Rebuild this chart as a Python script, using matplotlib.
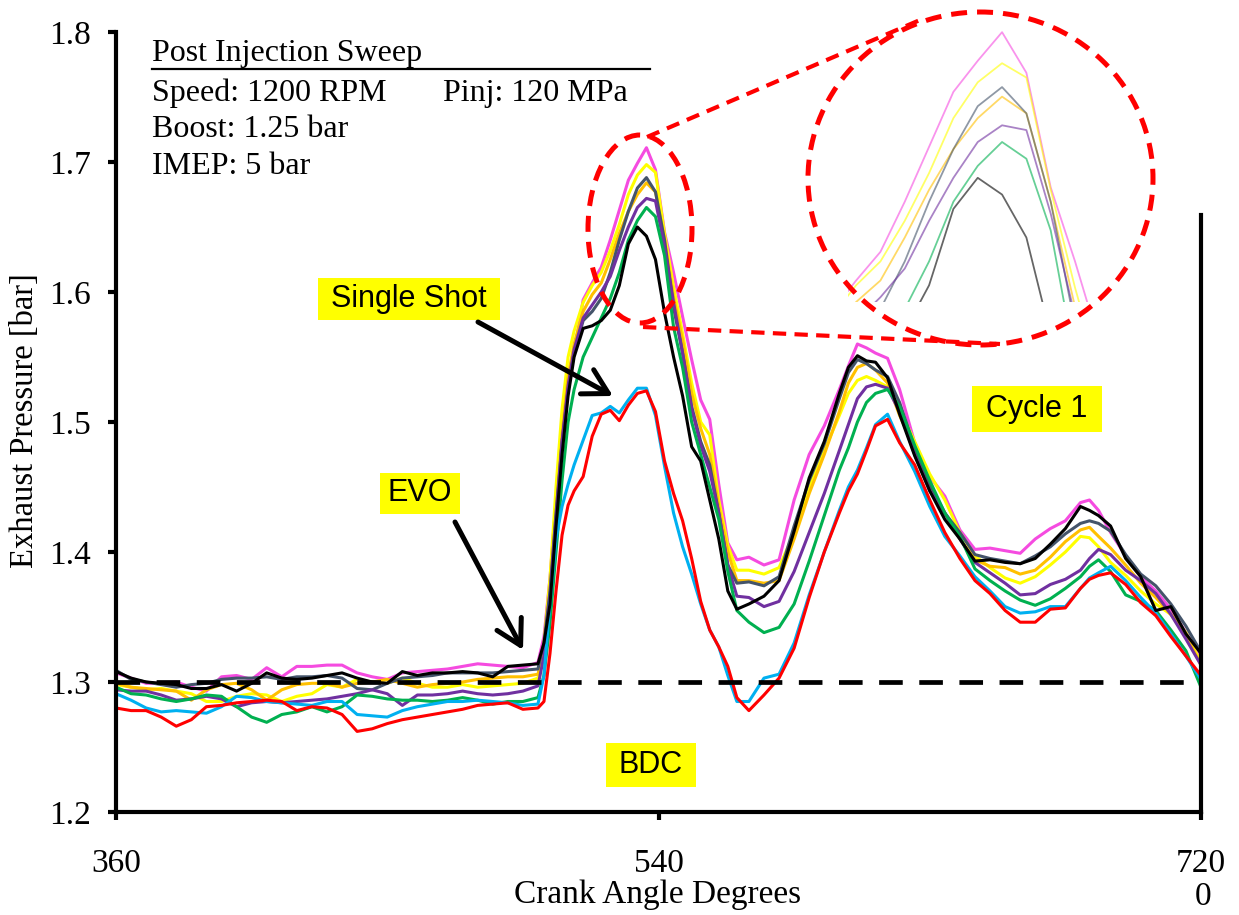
import matplotlib
matplotlib.use("Agg")
import matplotlib.pyplot as plt
from matplotlib.patches import Ellipse, Rectangle, FancyArrowPatch
from matplotlib.lines import Line2D

# ---------------- data ----------------
crank_angle = (list(range(360, 501, 5)) + [502, 504, 506, 508, 510, 512]
               + list(range(515, 567, 3)) + [570, 575, 580, 585, 590, 595, 600]
               + [603, 606, 609, 612, 616, 620] + list(range(625, 681, 5))
               + [683, 686] + list(range(690, 721, 5)))

magenta = [1.307, 1.303, 1.299, 1.299, 1.300, 1.296, 1.293, 1.304, 1.305, 1.302, 1.311, 1.304, 1.312, 1.312, 1.313,
           1.313, 1.307, 1.304, 1.302, 1.307, 1.308, 1.309, 1.310, 1.312, 1.314, 1.313, 1.312, 1.311, 1.315,
           1.335, 1.380, 1.440, 1.500, 1.532, 1.553,
           1.594, 1.607, 1.619, 1.640, 1.663, 1.686, 1.699, 1.711, 1.694, 1.646, 1.615, 1.581, 1.548, 1.517, 1.502,
           1.452, 1.407, 1.394,
           1.396, 1.390, 1.394, 1.440, 1.475, 1.497, 1.525,
           1.543, 1.560, 1.557, 1.553, 1.549, 1.525,
           1.484, 1.458, 1.443, 1.417, 1.402, 1.403, 1.401, 1.399, 1.410, 1.418, 1.424, 1.438,
           1.440, 1.432,
           1.415, 1.397, 1.381, 1.370, 1.356, 1.338, 1.318]

yellow = [1.298, 1.296, 1.294, 1.295, 1.293, 1.291, 1.285, 1.285, 1.289, 1.291, 1.290, 1.285, 1.289, 1.291, 1.298,
          1.296, 1.302, 1.300, 1.299, 1.303, 1.299, 1.296, 1.296, 1.298, 1.296, 1.297, 1.298, 1.299, 1.303,
          1.330, 1.380, 1.450, 1.510, 1.550, 1.570,
          1.592, 1.605, 1.615, 1.632, 1.652, 1.675, 1.690, 1.698, 1.692, 1.645, 1.604, 1.568, 1.530, 1.500, 1.490,
          1.440, 1.405, 1.386,
          1.386, 1.383, 1.388, 1.415, 1.450, 1.478, 1.505,
          1.522, 1.532, 1.535, 1.532, 1.527, 1.510,
          1.485, 1.460, 1.440, 1.415, 1.397, 1.388, 1.380, 1.376, 1.381, 1.390, 1.400, 1.412,
          1.411, 1.404,
          1.392, 1.382, 1.370, 1.360, 1.352, 1.338, 1.315]

orange = [1.299, 1.296, 1.295, 1.294, 1.293, 1.286, 1.294, 1.298, 1.299, 1.294, 1.286, 1.294, 1.298, 1.299, 1.299,
          1.296, 1.299, 1.300, 1.302, 1.299, 1.296, 1.298, 1.299, 1.300, 1.302, 1.303, 1.304, 1.304, 1.306,
          1.325, 1.370, 1.430, 1.490, 1.535, 1.560,
          1.585, 1.598, 1.607, 1.625, 1.645, 1.662, 1.675, 1.684, 1.677, 1.640, 1.596, 1.563, 1.522, 1.495, 1.475,
          1.435, 1.400, 1.378,
          1.378, 1.376, 1.378, 1.410, 1.445, 1.475, 1.508,
          1.530, 1.542, 1.545, 1.540, 1.530, 1.505,
          1.480, 1.452, 1.430, 1.410, 1.394, 1.389, 1.388, 1.383, 1.386, 1.396, 1.408, 1.417,
          1.419, 1.412,
          1.403, 1.390, 1.376, 1.365, 1.352, 1.336, 1.313]

slate = [1.309, 1.302, 1.300, 1.298, 1.296, 1.298, 1.299, 1.302, 1.303, 1.303, 1.304, 1.302, 1.304, 1.304, 1.305,
         1.303, 1.295, 1.294, 1.299, 1.303, 1.304, 1.305, 1.307, 1.307, 1.307, 1.307, 1.308, 1.309, 1.310,
         1.330, 1.370, 1.430, 1.485, 1.525, 1.553,
         1.578, 1.585, 1.595, 1.615, 1.640, 1.662, 1.680, 1.688, 1.677, 1.640, 1.588, 1.553, 1.512, 1.485, 1.467,
         1.430, 1.390, 1.376,
         1.377, 1.374, 1.381, 1.420, 1.455, 1.483, 1.518,
         1.538, 1.548, 1.545, 1.540, 1.535, 1.515,
         1.480, 1.452, 1.430, 1.415, 1.398, 1.395, 1.393, 1.391, 1.397, 1.404, 1.414, 1.422,
         1.424, 1.422,
         1.416, 1.398, 1.383, 1.374, 1.360, 1.343, 1.323]

purple = [1.294, 1.293, 1.293, 1.290, 1.286, 1.287, 1.289, 1.287, 1.281, 1.284, 1.285, 1.284, 1.285, 1.286, 1.287,
          1.289, 1.291, 1.294, 1.291, 1.282, 1.290, 1.290, 1.291, 1.293, 1.291, 1.290, 1.291, 1.293, 1.297,
          1.320, 1.365, 1.425, 1.485, 1.528, 1.556,
          1.580, 1.590, 1.600, 1.612, 1.632, 1.650, 1.665, 1.672, 1.670, 1.635, 1.592, 1.553, 1.510, 1.482, 1.462,
          1.430, 1.390, 1.366,
          1.365, 1.358, 1.362, 1.385, 1.415, 1.445, 1.478,
          1.498, 1.518, 1.527, 1.529, 1.526, 1.508,
          1.475, 1.447, 1.430, 1.410, 1.392, 1.384, 1.376, 1.367, 1.368, 1.375, 1.379, 1.386,
          1.395, 1.402,
          1.398, 1.386, 1.378, 1.368, 1.352, 1.333, 1.313]

green = [1.296, 1.291, 1.290, 1.287, 1.285, 1.287, 1.290, 1.289, 1.281, 1.273, 1.269, 1.275, 1.277, 1.281, 1.277,
         1.281, 1.290, 1.289, 1.287, 1.286, 1.286, 1.285, 1.286, 1.288, 1.286, 1.283, 1.285, 1.285, 1.288,
         1.305, 1.345, 1.400, 1.455, 1.500, 1.525,
         1.550, 1.565, 1.580, 1.595, 1.615, 1.640, 1.655, 1.665, 1.658, 1.628, 1.573, 1.542, 1.500, 1.475, 1.450,
         1.425, 1.385, 1.355,
         1.346, 1.338, 1.342, 1.360, 1.393, 1.428, 1.463,
         1.480, 1.500, 1.515, 1.522, 1.525, 1.512,
         1.482, 1.455, 1.430, 1.412, 1.387, 1.378, 1.370, 1.363, 1.359, 1.364, 1.372, 1.381,
         1.389, 1.394,
         1.385, 1.367, 1.362, 1.355, 1.340, 1.324, 1.296]

black = [1.308, 1.303, 1.300, 1.299, 1.298, 1.295, 1.295, 1.298, 1.293, 1.299, 1.307, 1.303, 1.302, 1.303, 1.305,
         1.307, 1.303, 1.300, 1.299, 1.308, 1.305, 1.307, 1.307, 1.308, 1.307, 1.304, 1.312, 1.313, 1.314,
         1.330, 1.360, 1.420, 1.475, 1.520, 1.550,
         1.572, 1.574, 1.578, 1.586, 1.605, 1.637, 1.650, 1.643, 1.625, 1.584, 1.550, 1.520, 1.481, 1.470, 1.440,
         1.410, 1.370, 1.356,
         1.360, 1.366, 1.378, 1.416, 1.457, 1.485, 1.522,
         1.542, 1.551, 1.547, 1.546, 1.534, 1.506,
         1.474, 1.447, 1.425, 1.410, 1.393, 1.394, 1.392, 1.391, 1.395, 1.406, 1.418, 1.435,
         1.432, 1.428,
         1.420, 1.395, 1.381, 1.355, 1.358, 1.337, 1.322]

cyan = [1.291, 1.286, 1.280, 1.277, 1.278, 1.277, 1.276, 1.281, 1.289, 1.288, 1.285, 1.284, 1.283, 1.282, 1.285,
        1.285, 1.275, 1.274, 1.273, 1.278, 1.281, 1.283, 1.285, 1.285, 1.286, 1.285, 1.284, 1.282, 1.283,
        1.305, 1.360, 1.410, 1.435, 1.452, 1.467,
        1.486, 1.505, 1.507, 1.512, 1.507, 1.517, 1.526, 1.526, 1.505, 1.466, 1.430, 1.404, 1.383, 1.360, 1.340,
        1.327, 1.305, 1.285,
        1.285, 1.303, 1.306, 1.330, 1.367, 1.400, 1.432,
        1.450, 1.463, 1.480, 1.498, 1.506, 1.485,
        1.462, 1.435, 1.412, 1.397, 1.381, 1.370, 1.358, 1.353, 1.354, 1.358, 1.358, 1.372,
        1.380, 1.384,
        1.389, 1.378, 1.365, 1.353, 1.337, 1.320, 1.302]

red = [1.280, 1.278, 1.278, 1.273, 1.266, 1.271, 1.281, 1.282, 1.284, 1.285, 1.286, 1.285, 1.278, 1.281, 1.280,
       1.275, 1.262, 1.264, 1.268, 1.271, 1.273, 1.275, 1.277, 1.279, 1.282, 1.283, 1.284, 1.279, 1.280,
       1.285, 1.322, 1.370, 1.413, 1.436, 1.447,
       1.458, 1.489, 1.506, 1.509, 1.501, 1.513, 1.522, 1.524, 1.508, 1.470, 1.445, 1.424, 1.395, 1.362, 1.340,
       1.327, 1.312, 1.288,
       1.278, 1.290, 1.303, 1.326, 1.365, 1.400, 1.430,
       1.447, 1.460, 1.478, 1.497, 1.502, 1.484,
       1.467, 1.440, 1.415, 1.395, 1.378, 1.368, 1.355, 1.346, 1.346, 1.356, 1.357, 1.372,
       1.379, 1.382,
       1.384, 1.375, 1.361, 1.351, 1.335, 1.320, 1.305]

series = [
    (magenta, "#F54BE0"),
    (yellow, "#FFFF00"),
    (orange, "#FFC000"),
    (slate, "#44546A"),
    (purple, "#7030A0"),
    (green, "#00B050"),
    (cyan, "#00B0F0"),
    (red, "#FF0000"),
    (black, "#000000"),
]
for vals, _ in series:
    assert len(vals) == len(crank_angle), (len(vals), len(crank_angle))

x_ticks = [360, 540, 720]
y_ticks = [1.2, 1.3, 1.4, 1.5, 1.6, 1.7, 1.8]

# ---------------- figure ----------------
W, H = 1239, 915
fig = plt.figure(figsize=(W / 100, H / 100), dpi=100)


def fx(x):
    return x / W


def fy(y):
    return 1 - y / H


SERIF = "Liberation Serif"
SANS = "Liberation Sans"

ax = fig.add_axes([fx(116), fy(812), fx(1201) - fx(116), fy(32) - fy(812)])
ax.set_xlim(360, 720)
ax.set_ylim(1.2, 1.8)

for vals, col in series:
    ax.plot(crank_angle, vals, color=col, lw=2.2, solid_joinstyle="round")

ax.axhline(1.3, color="black", lw=3.4, dashes=(5, 3.5), zorder=5)

ax.spines["top"].set_visible(False)
for s in ["left", "bottom", "right"]:
    ax.spines[s].set_linewidth(3.0)
ax.spines["right"].set_bounds(1.2, 1.659)

ax.set_xticks(x_ticks)
ax.set_xticklabels([str(v) for v in x_ticks], fontfamily=SERIF, fontsize=24)
ax.set_yticks(y_ticks)
ax.set_yticklabels([f"{v:.1f}" for v in y_ticks], fontfamily=SERIF, fontsize=24)
ax.tick_params(axis="x", direction="out", length=6, width=3, pad=20)
ax.tick_params(axis="y", direction="out", length=6, width=3, pad=12)

fig.text(fx(1203), fy(897), "0", fontfamily=SERIF, fontsize=24, ha="center", va="center")
fig.text(fx(658), fy(895), "Crank Angle Degrees", fontfamily=SERIF, fontsize=24, ha="center", va="center")
fig.text(fx(25), fy(421), "Exhaust Pressure [bar]", fontfamily=SERIF, fontsize=23.5,
         rotation=90, ha="center", va="center")

# info block
INFO = 23
fig.text(fx(152), fy(53), "Post Injection Sweep", fontfamily=SERIF, fontsize=INFO, ha="left", va="center")
fig.add_artist(Line2D([fx(152), fx(650)], [fy(69), fy(69)], color="black", lw=1.6, transform=fig.transFigure))
fig.text(fx(152), fy(93), "Speed: 1200 RPM", fontfamily=SERIF, fontsize=INFO, ha="left", va="center")
fig.text(fx(443), fy(93), "Pinj: 120 MPa", fontfamily=SERIF, fontsize=INFO, ha="left", va="center")
fig.text(fx(152), fy(130), "Boost: 1.25 bar", fontfamily=SERIF, fontsize=INFO, ha="left", va="center")
fig.text(fx(152), fy(167), "IMEP: 5 bar", fontfamily=SERIF, fontsize=INFO, ha="left", va="center")

# zoom inset (faded)
ins = fig.add_axes([fx(848), fy(302), fx(1088) - fx(848), fy(25) - fy(302)])
ins.set_xlim(517, 546.6)
ins.set_ylim(1.598, 1.714)
ins.axis("off")
for vals, col in series:
    ins.plot(crank_angle, vals, color=col, lw=1.3, alpha=0.6)

# red dashed zoom markers
red_ls = (0, (3.2, 2.0))
fig.add_artist(Ellipse((fx(640), fy(229)), 104 / W, 188 / H, fill=False, edgecolor="#FF0000",
                       lw=3.6, linestyle=red_ls, transform=fig.transFigure))
fig.add_artist(Ellipse((fx(980.5), fy(178.5)), 345 / W, 333 / H, fill=False, edgecolor="#FF0000",
                       lw=3.6, linestyle=red_ls, transform=fig.transFigure))
fig.add_artist(Line2D([fx(647), fx(920)], [fy(137), fy(20)], color="#FF0000", lw=3.0,
                      linestyle=red_ls, transform=fig.transFigure))
fig.add_artist(Line2D([fx(643), fx(1000)], [fy(327), fy(344)], color="#FF0000", lw=3.0,
                      linestyle=red_ls, transform=fig.transFigure))


# yellow labels
def label_box(x0, y0, x1, y1, text):
    fig.add_artist(Rectangle((fx(x0), fy(y1)), (x1 - x0) / W, (y1 - y0) / H, facecolor="#FFFF00",
                             edgecolor="none", transform=fig.transFigure))
    fig.text(fx((x0 + x1) / 2), fy((y0 + y1) / 2), text, fontfamily=SANS, fontsize=22,
             ha="center", va="center")


label_box(318, 278, 500, 320, "Single Shot")
label_box(380, 473, 460, 514, "EVO")
label_box(972, 386, 1102, 432, "Cycle 1")
label_box(606, 743, 696, 787, "BDC")


def arrow(x0, y0, x1, y1):
    fig.add_artist(FancyArrowPatch((fx(x0), fy(y0)), (fx(x1), fy(y1)), transform=fig.transFigure,
                                   arrowstyle="->,head_length=0.8,head_width=0.45", mutation_scale=22,
                                   lw=3.6, color="black", shrinkA=0, shrinkB=0))


arrow(478, 322, 613, 396)
arrow(455, 522, 523, 650)

fig.savefig("out.png", dpi=100)
